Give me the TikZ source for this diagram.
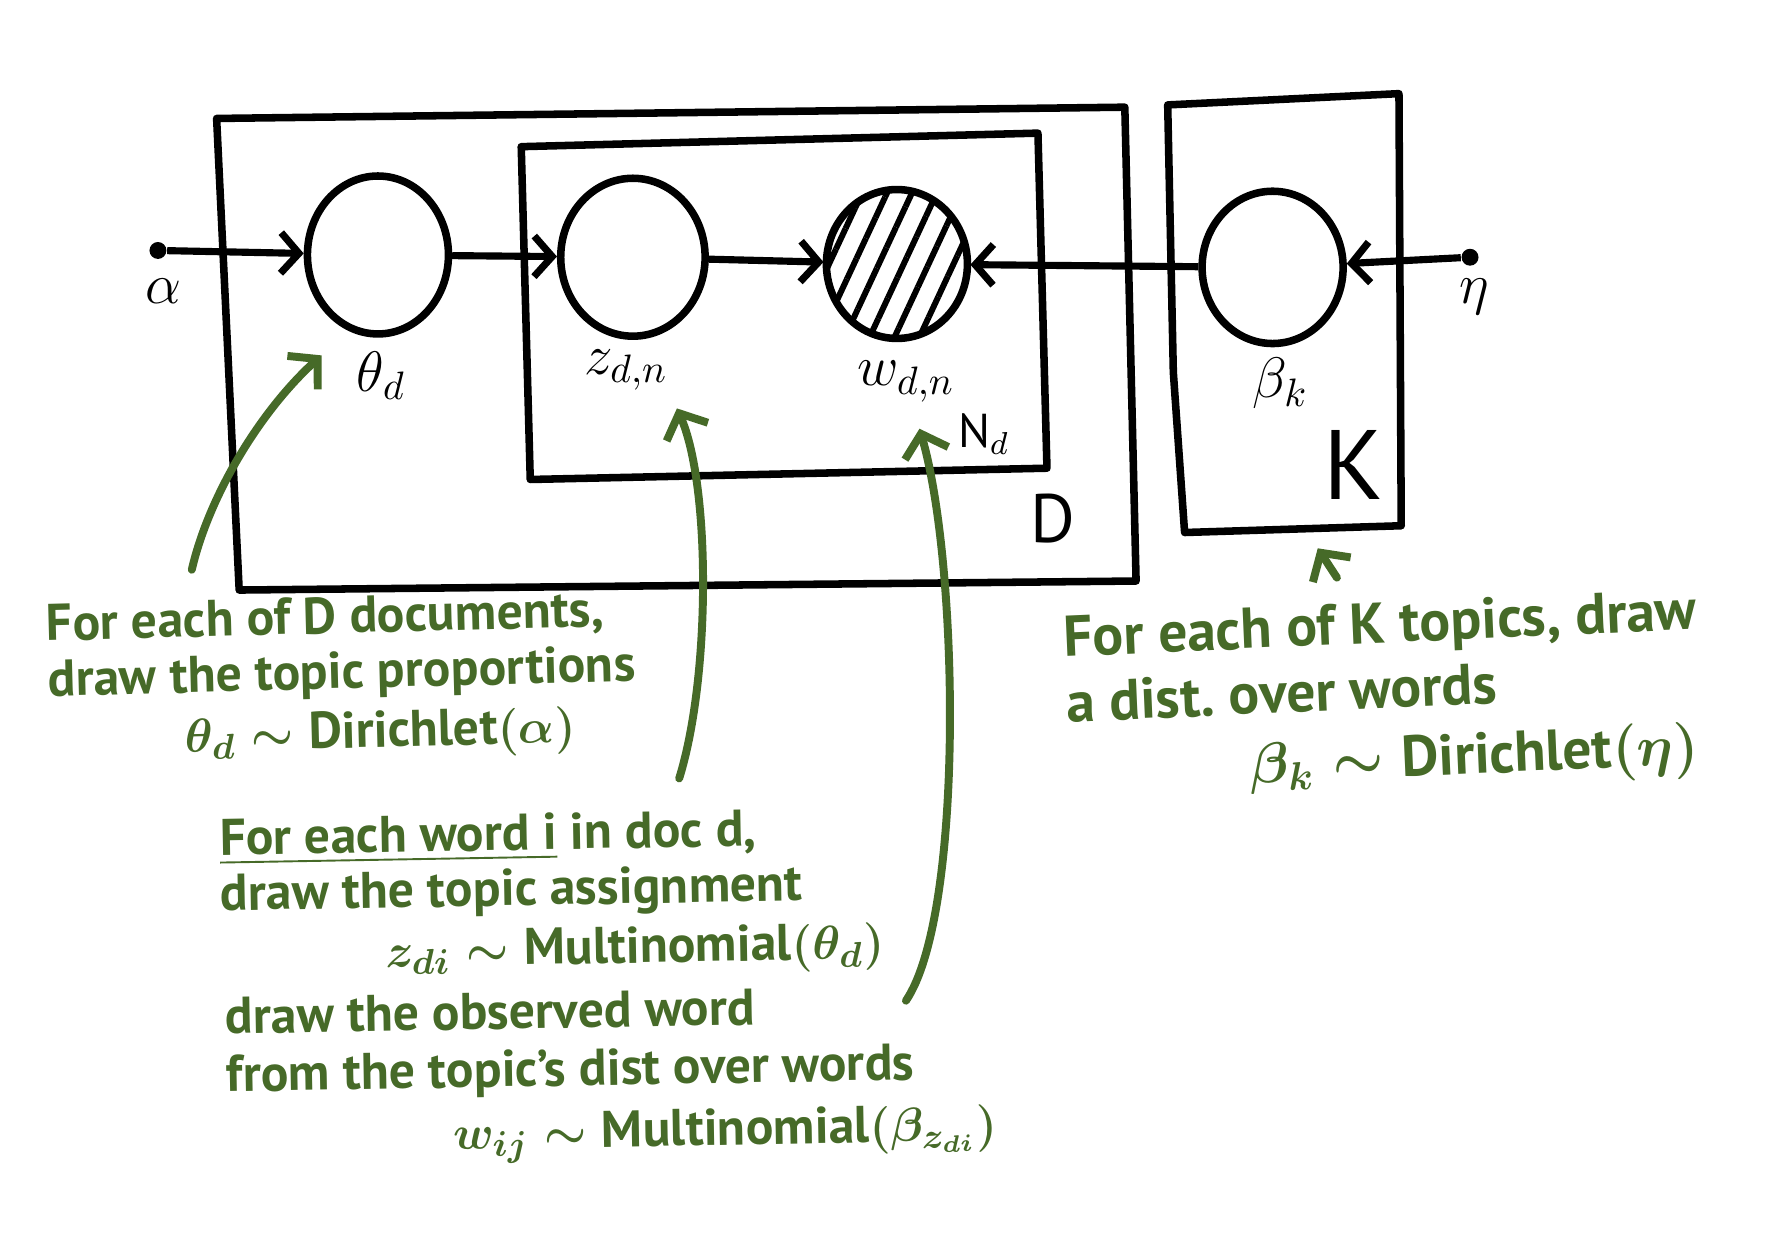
\documentclass[tikz,border=0pt]{standalone}
\usepackage{fontspec}
\setmainfont{PT Sans}
\usepackage{amsmath}
\usetikzlibrary{arrows.meta,shapes.geometric,patterns.meta}
\definecolor{notegreen}{RGB}{70,106,40}
\tikzset{
    plate/.style={line width=1.9pt, line join=round},
    latent/.style={draw, ellipse, line width=1.9pt, minimum width=1.25cm, minimum height=1.4cm, inner sep=0pt},
    seen/.style={latent, pattern={Lines[angle=65,distance=2mm,line width=1.5pt]}},
    hyper/.style={circle, fill, inner sep=0pt, minimum size=1.5mm},
    edge/.style={line width=1.8pt, -{Straight Barb[length=1.6mm,width=3.6mm]}},
    pointer/.style={line width=2pt, line cap=round, -{Straight Barb[length=1.8mm,width=4mm]}},
    note/.style={align=left, inner sep=0pt, font=\fontsize{13}{14}\selectfont\bfseries\boldmath},
}
\newcommand\Hyper[4]{% name, dot, label position, label
    \node[hyper] (#1) at (#2) {};
    \node[font=\Large] (#1-lab) at (#3) {#4};
}

\begin{document}
\begin{tikzpicture}
    \useasboundingbox (0,0) rectangle (15.68,-11.00);
    % plates D, N_d, K
    \draw[plate] (1.92,-1.05) -- (9.97,-0.95) -- (10.07,-5.15) -- (2.12,-5.23) -- cycle;
    \draw[plate] (4.62,-1.30) -- (9.20,-1.18) -- (9.28,-4.15) -- (4.70,-4.25) -- cycle;
    \draw[plate] (10.35,-0.93) -- (12.40,-0.83) -- (12.42,-4.66) -- (10.50,-4.72) -- (10.40,-3.30) -- cycle;
    \node[font=\LARGE] (D) at (9.33,-4.60) {D};
    \node[font=\large] (Nd) at (8.72,-3.85) {N$_d$};
    \node[font=\Huge] (K) at (12.00,-4.12) {K};
    % variables
    \node[latent] (theta) at (3.35,-2.26) {};
    \node[latent, minimum width=1.28cm] (z) at (5.61,-2.28) {};
    \node[seen, minimum height=1.32cm] (w) at (7.95,-2.34) {};
    \node[latent, minimum height=1.35cm] (beta) at (11.28,-2.37) {};
    \node[font=\Large] (theta-lab) at (3.38,-3.33) {$\theta_d$};
    \node[font=\Large] (z-lab) at (5.55,-3.28) {$z_{d,n}$};
    \node[font=\Large] (w-lab) at (8.03,-3.38) {$w_{d,n}$};
    \node[font=\Large] (beta-lab) at (11.35,-3.40) {$\beta_k$};
    \Hyper{alpha}{1.40,-2.22}{1.45,-2.58}{$\alpha$}
    \Hyper{eta}{13.03,-2.28}{13.07,-2.63}{$\eta$}
    \draw[edge] (alpha) -- (theta);
    \draw[edge] (theta) -- (z);
    \draw[edge] (z) -- (w);
    \draw[edge] (beta) -- (w);
    \draw[edge] (eta) -- (beta);
    \begin{scope}[color=notegreen] % notes
        \node[note, rotate=1.5, anchor=west] (note-d) at (0.42,-6.08)
            {For each of D documents,\\ draw the topic proportions\\[1pt] \hspace*{1.2cm}$\theta_d\sim\text{Dirichlet}(\alpha)$};
        \node[note, rotate=2.5, anchor=west, font=\fontsize{14.5}{16.5}\selectfont\bfseries\boldmath] (note-k) at (9.45,-6.30)
            {For each of K topics, draw\\ a dist.\ over words\\[1pt] \hspace*{1.6cm}$\beta_k\sim\text{Dirichlet}(\eta)$};
        \node[note, rotate=1, anchor=west] (note-z) at (1.95,-7.98)
            {\underline{For each word i} in doc d,\\ draw the topic assignment\\[1pt] \hspace*{1.45cm}$z_{di}\sim\text{Multinomial}(\theta_d)$};
        \node[note, rotate=1, anchor=west, font=\fontsize{13}{14.6}\selectfont\bfseries\boldmath] (note-w) at (2.00,-9.60)
            {draw the observed word\\ from the topic's dist over words\\[1pt] \hspace*{2cm}$w_{ij}\sim\text{Multinomial}(\beta_{z_{di}})$};
        \coordinate (p1) at (1.70,-5.05);
        \coordinate (t1) at (2.85,-3.15);
        \coordinate (p2) at (6.02,-6.90);
        \coordinate (t2) at (6.00,-3.62);
        \coordinate (p3) at (8.03,-8.87);
        \coordinate (t3) at (8.15,-3.80);
        \coordinate (p4) at (11.85,-5.12);
        \coordinate (t4) at (11.68,-4.86);
        \draw[pointer] (p1) .. controls (1.85,-4.40) and (2.30,-3.65) .. (t1);
        \draw[pointer] (p2) .. controls (6.30,-6.00) and (6.30,-4.30) .. (t2);
        \draw[pointer] (p3) .. controls (8.55,-8.10) and (8.50,-5.00) .. (t3);
        \draw[pointer] (p4) -- (t4);
    \end{scope}
\end{tikzpicture}
\end{document}
